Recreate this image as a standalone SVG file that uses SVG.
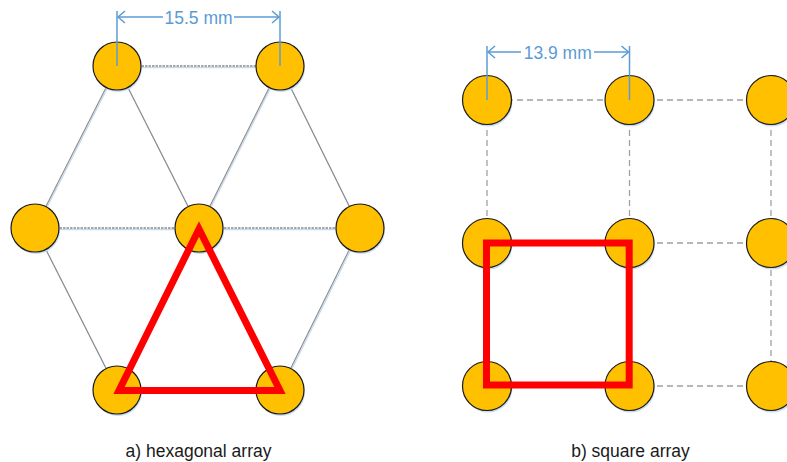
<svg xmlns="http://www.w3.org/2000/svg" width="787" height="462" viewBox="0 0 787 462">
<style>
.node circle.c{fill:#FFC000;stroke:#1a1a1a;stroke-width:1.2}
.node circle.s{fill:#C9DDF2}
.hl{stroke:#8A8A8A;stroke-width:1.1;fill:none}
.hls{stroke:#C5D9EE;stroke-width:1.2;fill:none}
.hd{stroke:#8A8A8A;stroke-width:1.3;stroke-dasharray:2.5 1;fill:none}
.sq{stroke:#A0A0A0;stroke-width:1.3;stroke-dasharray:6 4;fill:none}
.dim{stroke:#5B9BD5;stroke-width:1.5;fill:none}
.dimt{font-family:"Liberation Sans",Arial,sans-serif;font-size:17.5px;fill:#5B9BD5;text-anchor:middle}
.lbl{font-family:"Liberation Sans",Arial,sans-serif;font-size:17.5px;fill:#1a1a1a;text-anchor:middle}
.red{stroke:#FF0000;stroke-width:7;fill:none}
</style>
<defs>
<marker id="arr" markerUnits="userSpaceOnUse" markerWidth="10" markerHeight="14" refX="0" refY="0" orient="auto" overflow="visible">
<path d="M-7,-6 L0,0 L-7,6" stroke="#5B9BD5" stroke-width="1.5" fill="none"/>
</marker>
</defs>
<rect width="787" height="462" fill="#FFFFFF"/>
<g id="connectors">
<g transform="translate(0.8,1.6)">
<line class="hls" x1="117" y1="66" x2="280" y2="66"/>
<line class="hls" x1="117" y1="66" x2="35" y2="228"/>
<line class="hls" x1="117" y1="66" x2="199" y2="228"/>
<line class="hls" x1="280" y1="66" x2="199" y2="228"/>
<line class="hls" x1="280" y1="66" x2="360" y2="228"/>
<line class="hls" x1="35" y1="228" x2="360" y2="228"/>
<line class="hls" x1="35" y1="228" x2="117" y2="390"/>
<line class="hls" x1="360" y1="228" x2="280" y2="390"/>
</g>
<line class="hd" x1="117" y1="66" x2="280" y2="66"/>
<line class="hl" x1="117" y1="66" x2="35" y2="228"/>
<line class="hl" x1="117" y1="66" x2="199" y2="228"/>
<line class="hl" x1="280" y1="66" x2="199" y2="228"/>
<line class="hl" x1="280" y1="66" x2="360" y2="228"/>
<line class="hd" x1="35" y1="228" x2="360" y2="228"/>
<line class="hl" x1="35" y1="228" x2="117" y2="390"/>
<line class="hl" x1="360" y1="228" x2="280" y2="390"/>
<line class="sq" x1="487" y1="100" x2="771" y2="100"/>
<line class="sq" x1="487" y1="243" x2="771" y2="243"/>
<line class="sq" x1="487" y1="386" x2="771" y2="386"/>
<line class="sq" x1="487" y1="100" x2="487" y2="386"/>
<line class="sq" x1="629.5" y1="100" x2="629.5" y2="386"/>
<line class="sq" x1="771" y1="100" x2="771" y2="386"/>
</g>
<g id="hex-nodes">
<g id="h-tl" class="node"><circle class="s" cx="118" cy="68" r="24"/><circle class="c" cx="117" cy="66" r="24"/></g>
<g id="h-tr" class="node"><circle class="s" cx="281" cy="68" r="24"/><circle class="c" cx="280" cy="66" r="24"/></g>
<g id="h-ml" class="node"><circle class="s" cx="36" cy="230" r="24"/><circle class="c" cx="35" cy="228" r="24"/></g>
<g id="h-mc" class="node"><circle class="s" cx="200" cy="230" r="24"/><circle class="c" cx="199" cy="228" r="24"/></g>
<g id="h-mr" class="node"><circle class="s" cx="361" cy="230" r="24"/><circle class="c" cx="360" cy="228" r="24"/></g>
<g id="h-bl" class="node"><circle class="s" cx="118" cy="392" r="24"/><circle class="c" cx="117" cy="390" r="24"/></g>
<g id="h-br" class="node"><circle class="s" cx="281" cy="392" r="24"/><circle class="c" cx="280" cy="390" r="24"/></g>
</g>
<g id="sq-nodes">
<g id="s-11" class="node"><circle class="s" cx="488" cy="102" r="24.5"/><circle class="c" cx="487" cy="100" r="24.5"/></g>
<g id="s-12" class="node"><circle class="s" cx="630.5" cy="102" r="24.5"/><circle class="c" cx="629.5" cy="100" r="24.5"/></g>
<g id="s-13" class="node"><circle class="s" cx="772" cy="102" r="24.5"/><circle class="c" cx="771" cy="100" r="24.5"/></g>
<g id="s-21" class="node"><circle class="s" cx="488" cy="245" r="24.5"/><circle class="c" cx="487" cy="243" r="24.5"/></g>
<g id="s-22" class="node"><circle class="s" cx="630.5" cy="245" r="24.5"/><circle class="c" cx="629.5" cy="243" r="24.5"/></g>
<g id="s-23" class="node"><circle class="s" cx="772" cy="245" r="24.5"/><circle class="c" cx="771" cy="243" r="24.5"/></g>
<g id="s-31" class="node"><circle class="s" cx="488" cy="388" r="24.5"/><circle class="c" cx="487" cy="386" r="24.5"/></g>
<g id="s-32" class="node"><circle class="s" cx="630.5" cy="388" r="24.5"/><circle class="c" cx="629.5" cy="386" r="24.5"/></g>
<g id="s-33" class="node"><circle class="s" cx="772" cy="388" r="24.5"/><circle class="c" cx="771" cy="386" r="24.5"/></g>
</g>
<g id="unit-cells">
<polygon class="red" points="199,229 119,390.5 280,390.5" stroke-linejoin="miter"/>
<rect class="red" x="486.5" y="243" width="142.7" height="142"/>
</g>
<g id="dim-hex">
<line class="dim" x1="117" y1="66" x2="117" y2="11"/>
<line class="dim" x1="280" y1="66" x2="280" y2="11"/>
<line class="dim" x1="163" y1="17" x2="118" y2="17" marker-end="url(#arr)"/>
<line class="dim" x1="234" y1="17" x2="279" y2="17" marker-end="url(#arr)"/>
<text class="dimt" x="198.5" y="23.5">15.5 mm</text>
</g>
<g id="dim-sq">
<line class="dim" x1="487" y1="100" x2="487" y2="46"/>
<line class="dim" x1="629.5" y1="100" x2="629.5" y2="46"/>
<line class="dim" x1="521" y1="52" x2="488" y2="52" marker-end="url(#arr)"/>
<line class="dim" x1="594" y1="52" x2="628.5" y2="52" marker-end="url(#arr)"/>
<text class="dimt" x="557.7" y="58.5">13.9 mm</text>
</g>
<g id="labels">
<text class="lbl" x="198.5" y="457">a) hexagonal array</text>
<text class="lbl" x="630.5" y="457">b) square array</text>
</g>
</svg>
